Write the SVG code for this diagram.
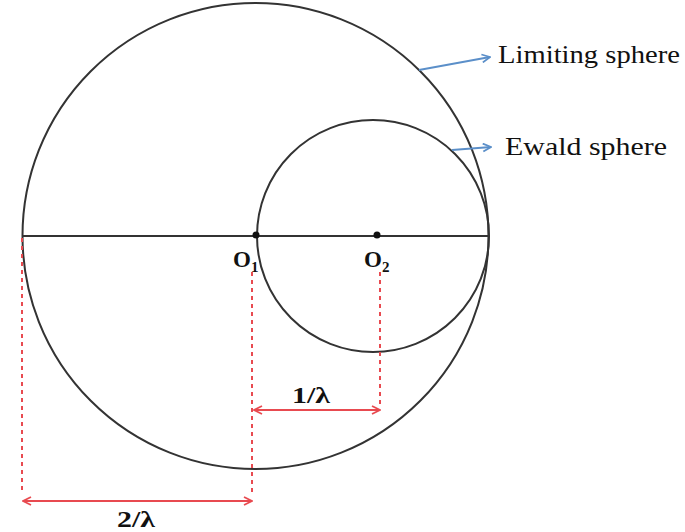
<svg xmlns="http://www.w3.org/2000/svg" width="685" height="532" viewBox="0 0 685 532">
<style>
.c{fill:none;stroke:#333;stroke-width:2}
.d{stroke:#e84a50;stroke-width:2;stroke-dasharray:4 4;fill:none}
.r{stroke:#e84a50;stroke-width:2.2;fill:none}
.b{stroke:#5b8fc9;stroke-width:2;fill:none}
.t{font-family:"Liberation Serif","Times New Roman",serif;fill:#111}
.lb{font-family:"Liberation Serif","Times New Roman",serif;font-weight:bold;fill:#111}
</style>
<defs>
<marker id="ra" viewBox="0 0 10 10" refX="9" refY="5" markerWidth="10" markerHeight="10" markerUnits="userSpaceOnUse" orient="auto-start-reverse"><path d="M1,1 L9,5 L1,9" fill="none" stroke="#e84a50" stroke-width="1.8"/></marker>
<marker id="ba" viewBox="0 0 10 10" refX="9" refY="5" markerWidth="10" markerHeight="10" markerUnits="userSpaceOnUse" orient="auto"><path d="M1,1 L9,5 L1,9" fill="none" stroke="#5b8fc9" stroke-width="1.8"/></marker>
</defs>
<g id="limiting-sphere"><circle class="c" cx="255.5" cy="236" r="233"/></g>
<g id="ewald-sphere"><circle class="c" cx="373" cy="236" r="116"/></g>
<g id="diameter"><line class="c" x1="22" y1="236" x2="489" y2="236"/></g>
<g id="O1"><circle cx="256" cy="235" r="3.5" fill="#111"/><text class="lb" x="233" y="267" font-size="23">O<tspan font-size="15" dy="5">1</tspan></text></g>
<g id="O2"><circle cx="377" cy="235" r="3.5" fill="#111"/><text class="lb" x="364" y="267" font-size="23">O<tspan font-size="15" dy="5">2</tspan></text></g>
<g id="connectors">
<line class="d" x1="22" y1="238" x2="22" y2="494"/>
<line class="d" x1="252" y1="272" x2="252" y2="494"/>
<line class="d" x1="380" y1="272" x2="380" y2="406"/>
<line class="r" x1="254" y1="410" x2="380" y2="410" marker-start="url(#ra)" marker-end="url(#ra)"/>
<line class="r" x1="23" y1="501" x2="252" y2="501" marker-start="url(#ra)" marker-end="url(#ra)"/>
<line class="b" x1="419" y1="70" x2="490" y2="57" marker-end="url(#ba)"/>
<line class="b" x1="452" y1="150" x2="491" y2="147" marker-end="url(#ba)"/>
</g>
<g id="labels">
<text class="lb" x="292" y="403" font-size="23" textLength="38" lengthAdjust="spacingAndGlyphs">1/λ</text>
<text class="lb" x="117" y="527" font-size="23" textLength="38" lengthAdjust="spacingAndGlyphs">2/λ</text>
<text class="t" x="498" y="63" font-size="26" textLength="182" lengthAdjust="spacingAndGlyphs">Limiting sphere</text>
<text class="t" x="505" y="155" font-size="26" textLength="162" lengthAdjust="spacingAndGlyphs">Ewald sphere</text>
</g>
</svg>
